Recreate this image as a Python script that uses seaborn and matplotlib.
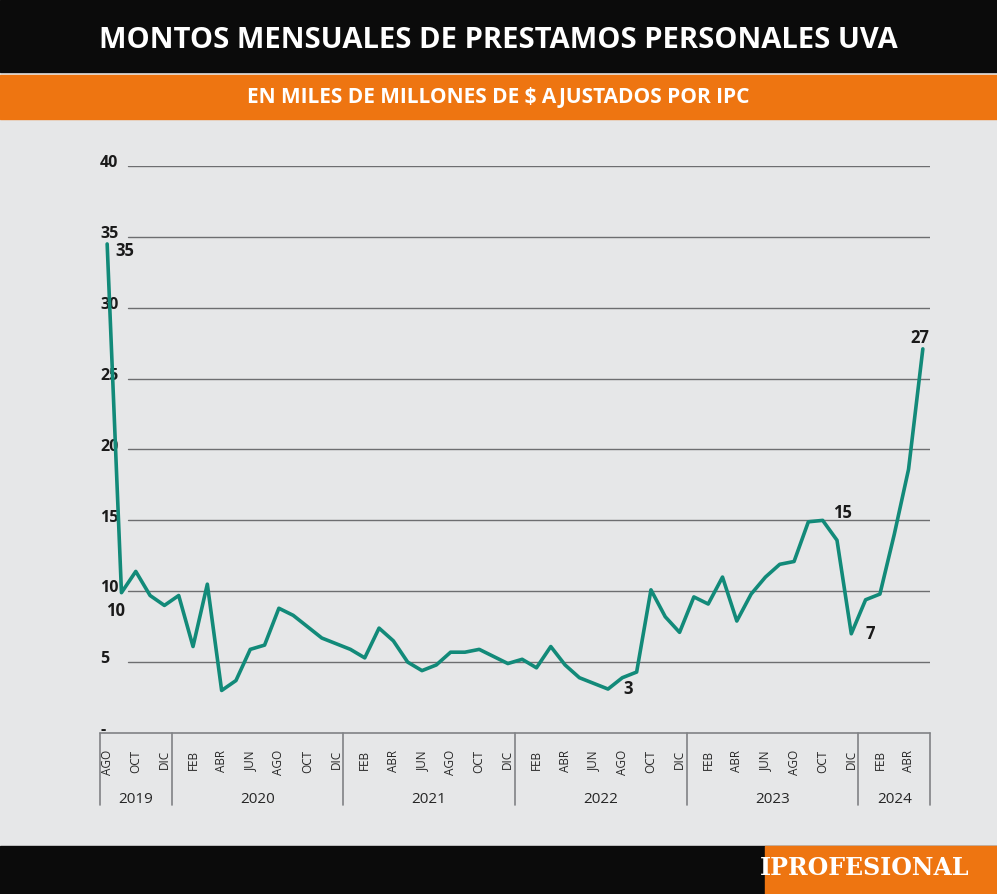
import matplotlib as mpl
mpl.use('Agg')
import numpy as np
import pandas as pd
import seaborn as sns
import matplotlib.pyplot as plt
from matplotlib.patches import Rectangle

# monthly values, Aug 2019 .. May 2024
values = [34.5, 9.9, 11.4, 9.7, 9.0,
          9.7, 6.1, 10.5, 3.0, 3.7, 5.9, 6.2, 8.8, 8.3, 7.5, 6.7, 6.3,
          5.9, 5.3, 7.4, 6.5, 5.0, 4.4, 4.8, 5.7, 5.7, 5.9, 5.4, 4.9,
          5.2, 4.6, 6.1, 4.8, 3.9, 3.5, 3.1, 3.9, 4.3, 10.1, 8.2, 7.1,
          9.6, 9.1, 11.0, 7.9, 9.8, 11.0, 11.9, 12.1, 14.9, 15.0, 13.6, 7.0,
          9.4, 9.8, 14.0, 18.6, 27.1]
years = [2019] * 5 + [2020] * 12 + [2021] * 12 + [2022] * 12 + [2023] * 12 + [2024] * 5
month_names = ['ENE', 'FEB', 'MAR', 'ABR', 'MAY', 'JUN', 'JUL', 'AGO', 'SEP', 'OCT', 'NOV', 'DIC']
months = [month_names[(7 + i) % 12] for i in range(len(values))]
shown_months = ['FEB', 'ABR', 'JUN', 'AGO', 'OCT', 'DIC']
annotations = {0: '35', 1: '10', 35: '3', 50: '15', 52: '7', 57: '27'}
yticks = list(range(0, 41, 5))
ytick_labels = ['-'] + [str(v) for v in range(5, 41, 5)]

df = pd.DataFrame({'idx': range(len(values)), 'value': values, 'year': years, 'month': months})

sns.set_style('white')
plt.rcParams['font.family'] = ['Open Sans', 'DejaVu Sans']
bg = '#e6e7e8'
fig = plt.figure(figsize=(9.97, 8.94), dpi=100, facecolor=bg)

# header / footer bands
fig.patches.append(Rectangle((0, 1 - 72 / 894), 1, 72 / 894, transform=fig.transFigure, color='#0b0b0b'))
fig.patches.append(Rectangle((0, 1 - 119 / 894), 1, 44 / 894, transform=fig.transFigure, color='#ee7511'))
fig.patches.append(Rectangle((0, 0), 1, 48 / 894, transform=fig.transFigure, color='#0b0b0b'))
fig.patches.append(Rectangle((765 / 997, 0), 232 / 997, 48 / 894, transform=fig.transFigure, color='#ee7511'))
fig.text(0.5, 1 - 40 / 894, 'MONTOS MENSUALES DE PRESTAMOS PERSONALES UVA', color='white',
         fontsize=21, fontweight='bold', ha='center', va='center')
fig.text(0.5, 1 - 98 / 894, 'EN MILES DE MILLONES DE $ AJUSTADOS POR IPC', color='white',
         fontsize=15, fontweight='bold', ha='center', va='center')
fig.text(865 / 997, 26 / 894, 'IPROFESIONAL', color='white', fontsize=17, fontweight='bold',
         ha='center', va='center', family='DejaVu Serif')

ax = fig.add_axes([100 / 997, 161 / 894, 830 / 997, (733 - 166) / 894])
ax.set_facecolor(bg)
ax.set_xlim(-0.5, len(values) - 0.5)
ax.set_ylim(0, 40)
for v, lab in zip(yticks, ytick_labels):
    if v > 0:
        ax.axhline(v, xmin=28 / 830, xmax=1, color='#6d6e70', linewidth=1, zorder=1)
    ax.text(0, v + 0.2, lab, transform=ax.get_yaxis_transform(), ha='left', va='center',
            fontsize=11.5, fontweight='bold', color='#1a1a1a')
sns.lineplot(data=df, x='idx', y='value', ax=ax, color='#128a79', linewidth=2.6, zorder=3)
for s in ax.spines.values():
    s.set_visible(False)
ax.set_xticks([])
ax.set_yticks([])
ax.set_xlabel('')
ax.set_ylabel('')

# value labels
offsets = {0: (1.2, -0.5), 1: (-0.4, -1.3), 35: (1.4, 0.0), 50: (1.4, 0.5), 52: (1.3, 0.0), 57: (-0.2, 0.8)}
for i, txt in annotations.items():
    dx, dy = offsets[i]
    ax.text(i + dx, values[i] + dy, txt, fontsize=12, fontweight='bold', color='#1a1a1a',
            ha='center', va='center', zorder=4)

# month / year boxes below the axis
box_bottom = -72 / 14.175
line_kw = dict(color='#808285', linewidth=1.2, clip_on=False)
ax.plot([-0.5, len(values) - 0.5], [0, 0], **line_kw)
start = 0
for yr in sorted(set(years)):
    n = years.count(yr)
    ax.plot([start - 0.5, start - 0.5], [0, box_bottom], **line_kw)
    ax.text(start - 0.5 + n / 2, -4.7, str(yr), ha='center', va='center', fontsize=11, clip_on=False)
    start += n
ax.plot([start - 0.5, start - 0.5], [0, box_bottom], **line_kw)
for i, m in enumerate(months):
    if m in shown_months:
        ax.text(i, -1.2, m, rotation=90, ha='center', va='top', fontsize=8.5, clip_on=False)

fig.savefig('out.png', dpi=100, facecolor=bg)
